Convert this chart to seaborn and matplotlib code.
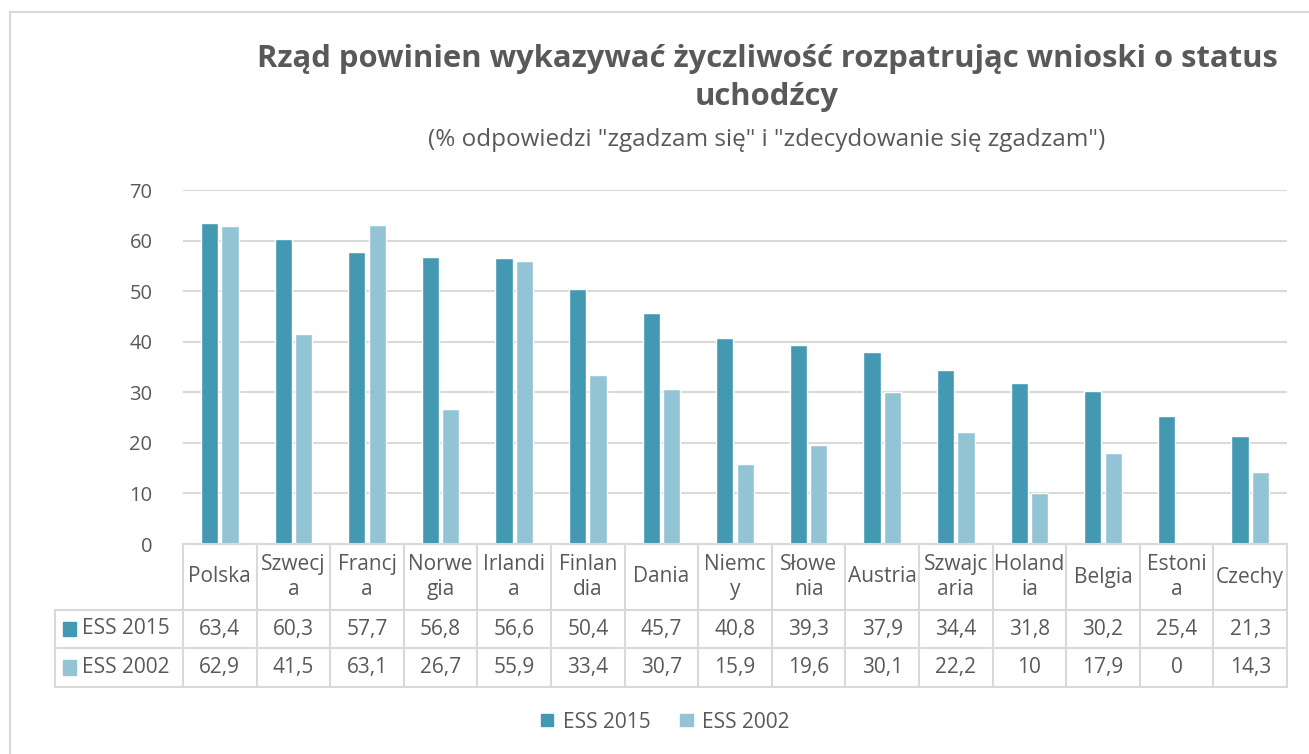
import numpy as np
import pandas as pd
import matplotlib
matplotlib.use("Agg")
import matplotlib.pyplot as plt
import matplotlib.transforms as mtransforms
from matplotlib.patches import Rectangle
import seaborn as sns

countries = ["Polska", "Szwecja", "Francja", "Norwegia", "Irlandia", "Finlandia", "Dania",
             "Niemcy", "Słowenia", "Austria", "Szwajcaria", "Holandia", "Belgia", "Estonia", "Czechy"]
header_labels = ["Polska", "Szwecj\na", "Francj\na", "Norwe\ngia", "Irlandi\na", "Finlan\ndia", "Dania",
                 "Niemc\ny", "Słowe\nnia", "Austria", "Szwajc\naria", "Holand\nia", "Belgia", "Estoni\na", "Czechy"]
ess_2015 = [63.4, 60.3, 57.7, 56.8, 56.6, 50.4, 45.7, 40.8, 39.3, 37.9, 34.4, 31.8, 30.2, 25.4, 21.3]
ess_2002 = [62.9, 41.5, 63.1, 26.7, 55.9, 33.4, 30.7, 15.9, 19.6, 30.1, 22.2, 10, 17.9, 0, 14.3]
series_names = ["ESS 2015", "ESS 2002"]
y_ticks = [0, 10, 20, 30, 40, 50, 60, 70]

title = "Rząd powinien wykazywać życzliwość rozpatrując wnioski o status\nuchodźcy"
subtitle = '(% odpowiedzi "zgadzam się" i "zdecydowanie się zgadzam")'

colors = ["#4299B1", "#93C4D6"]
text_color = "#595959"
line_color = "#D9D9D9"

sns.set_theme(style="white")
plt.rcParams["font.family"] = ["Open Sans", "DejaVu Sans"]

df = pd.DataFrame({
    "country": countries * 2,
    "value": ess_2015 + ess_2002,
    "series": [series_names[0]] * len(countries) + [series_names[1]] * len(countries),
})

W, H = 1309, 754
fig = plt.figure(figsize=(W / 100, H / 100), dpi=100)
ax = fig.add_axes([183 / W, 1 - 544 / H, (1287 - 183) / W, (544 - 190) / H])

sns.barplot(data=df, x="country", y="value", hue="series", palette=colors,
            width=0.55, gap=0.15, ax=ax, legend=False, saturation=1)

ax.set_xlim(-0.5, len(countries) - 0.5)
ax.set_ylim(0, 70)
ax.set_yticks(y_ticks)
ax.set_yticklabels([str(t) for t in y_ticks], fontsize=14.5, color=text_color)
ax.tick_params(axis="y", length=0, pad=22)
ax.set_xticks([])
ax.set_xlabel("")
ax.set_ylabel("")
for s in ax.spines.values():
    s.set_visible(False)
ax.yaxis.grid(True, color=line_color, linewidth=1.5)
ax.set_axisbelow(True)

# data table under the plot area
trans = mtransforms.blended_transform_factory(ax.transData, ax.transAxes)
px_h = 544 - 190
r0, r1, r2, r3 = 0, -66 / px_h, -104 / px_h, -143 / px_h
n = len(countries)
unit_px = (1287 - 183) / n
left_x = -0.5 - (183 - 55) / unit_px
lk = dict(color=line_color, linewidth=1.5, transform=trans, clip_on=False)

ax.plot([-0.5, n - 0.5], [r0, r0], **lk)
ax.plot([left_x, n - 0.5], [r1, r1], **lk)
ax.plot([left_x, n - 0.5], [r2, r2], **lk)
ax.plot([left_x, n - 0.5], [r3, r3], **lk)
ax.plot([left_x, left_x], [r1, r3], **lk)
for i in range(n + 1):
    ax.plot([i - 0.5, i - 0.5], [r0, r3], **lk)

tk = dict(transform=trans, ha="center", va="center", fontsize=15, color=text_color, clip_on=False)
for i in range(n):
    ax.text(i, (r0 + r1) / 2, header_labels[i], linespacing=1.25, **tk)
    ax.text(i, (r1 + r2) / 2, f"{ess_2015[i]:g}".replace(".", ","), **tk)
    ax.text(i, (r2 + r3) / 2, f"{ess_2002[i]:g}".replace(".", ","), **tk)

for j, (name, c) in enumerate(zip(series_names, colors)):
    yc = (r1 + r2) / 2 if j == 0 else (r2 + r3) / 2
    ax.add_patch(Rectangle((left_x + 8 / unit_px, yc - 0.02), 13 / unit_px, 0.04,
                           transform=trans, color=c, clip_on=False))
    ax.text(left_x + 27 / unit_px, yc, name, transform=trans, ha="left", va="center",
            fontsize=15, color=text_color, clip_on=False)

# legend
handles = [Rectangle((0, 0), 1, 1, color=c) for c in colors]
fig.legend(handles, series_names, loc="center", bbox_to_anchor=(665 / W, 1 - 722 / H),
           ncol=2, frameon=False, fontsize=15, handlelength=0.62, handleheight=0.5,
           columnspacing=1.4, handletextpad=0.45, labelcolor=text_color)

# titles
fig.text(767 / W, 1 - 78 / H, title, ha="center", va="center", fontsize=22.3,
         fontweight="bold", color=text_color, linespacing=1.38)
fig.text(767 / W, 1 - 140 / H, subtitle, ha="center", va="center", fontsize=17.5,
         color=text_color)

# outer chart frame
fig.patches.append(Rectangle((10 / W, -0.1), 1.2, 1 - 12 / H + 0.1, transform=fig.transFigure,
                             fill=False, edgecolor=line_color, linewidth=1.5))

fig.savefig("out.png", dpi=100)
